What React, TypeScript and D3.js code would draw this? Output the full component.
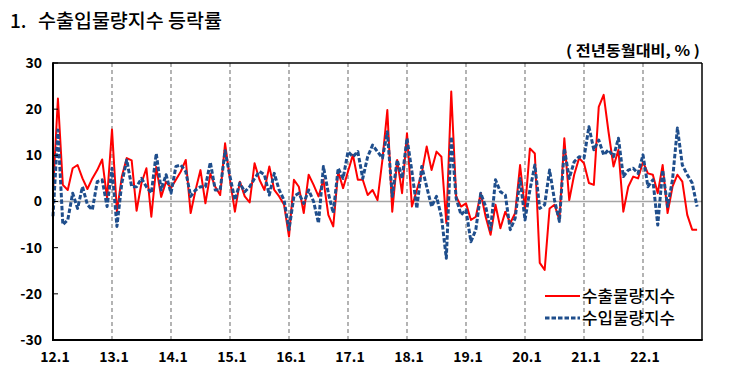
import React from "react";
import * as d3 from "d3";

const exportsPct: number[] = [
  2, 22.3, 3.6, 2.5, 7.2, 7.9, 5, 2.7, 5, 6.8, 9.1, 0.7,
  15.6, -2.2, 5.4, 9.4, 8.9, -2, 4, 7.2, -3.3, 7.5, 1, 4.3,
  2.9, 4.7, 6.5, 9, -2.5, 2.5, 6.8, -0.4, 6, 3.2, 1.4, 12.6,
  4.7, -2.2, 4.3, 1.1, -0.2, 8.3, 4.7, 2.5, 7.6, 2.5, 1.1, -0.7,
  -7.6, 4.7, 3.2, -2.5, 5.8, 3.6, 1.1, 4.7, -2.9, -5.4, 6.5, 2.9,
  6.5, 10.1, 4.7, 4.7, 1.4, 2.5, 0.3, 9, 19.8, -2.2, 9, 1.8,
  14.8, -1.1, 2.5, 6.1, 11.9, 6.8, 10.8, 9.7, -4.7, 23.8, 1.1, -1.1,
  -0.4, -4, -3.3, 1.8, -3.3, -7.2, -0.7, -5.8, -2.2, -4.7, -2.5, 7.9,
  -1.8, 11.5, 10.4, -13.3, -14.8, -1.5, -0.7, -4, 13.7, 0.3, 5.8, 9.4,
  8.3, 4, 3.6, 20.5, 23.1, 15, 7.6, 11.2, -2.2, 3.2, 5.4, 5,
  8.6, 6.1, 5.8, 1.8, 7.9, -2.5, 3.2, 5.8, 4.3, -2.9, -6.1, -6.1,
];

const importsPct: number[] = [
  -3.2, 15.5, -5, -4, 1.8, -1.5, 3.2, -0.7, -1.8, 4.3, 4.7, -1.1,
  7.2, -5.4, 4, 9, 3.2, 3.2, 5, 3.2, 1.8, 10.4, 2.5, 5.8,
  1.8, 7.6, 7.9, 6.5, 1.1, 2.5, 3.2, 3.2, 8.5, 2.5, 2.5, 11,
  5.4, 0.3, 4, 2.1, 3.2, 5, 6.5, 5.8, 1.4, 6.1, 2.5, 0.3,
  -6.1, 1.1, 1.8, -0.4, 2.5, 0, -4.7, 7.6, 1.8, -2.5, 7.2, 5,
  10.8, 9.7, 10.8, 5, 9.7, 12.2, 10.8, 9.4, 15.1, 1.1, 9, 5,
  13.7, 6.5, -1.5, 7.6, 3.2, -1.1, 1.1, -3.3, -12.3, 14, 0.7, -2.9,
  -1.8, -8.7, -6.1, 1.8, -1.1, -6.1, 4.7, 2.1, 1.4, -6.1, -3.6, 5,
  -4, 2.5, 7.9, -1.5, -0.7, 6.8, 0.3, -4.3, 11.5, 5, 8.6, 9.7,
  9.4, 16.2, 11.2, 13.3, 10.1, 11.2, 9.7, 13.7, 5.4, 6.8, 7.2, 6.1,
  10.1, 3.2, 4.7, -5.1, 6.8, -1.1, 4.7, 15.9, 7.9, 5.8, 4, -1.1,
];

const yearLabels: string[] = ["12.1", "13.1", "14.1", "15.1", "16.1", "17.1", "18.1", "19.1", "20.1", "21.1", "22.1"];
const yTicks: number[] = [-30, -20, -10, 0, 10, 20, 30];
const seriesNames: string[] = ["수출물량지수", "수입물량지수"];

const W = 730;
const H = 382;
const L = 53;
const R = 702;
const T = 63;
const B = 340;
const FONT = "'Noto Sans CJK KR', 'Noto Sans', sans-serif";

export default function App() {
  const x = d3.scaleLinear().domain([0, 132]).range([L, R]);
  const y = d3.scaleLinear().domain([-30, 30]).range([B, T]);
  const line = d3
    .line<number>()
    .x((_, i) => x(i))
    .y((d) => y(d));

  return (
    <svg
      width={W}
      height={H}
      style={{ position: "absolute", left: 0, top: 0, background: "#fff" }}
      fontFamily={FONT}
    >
      <rect x={0} y={0} width={W} height={H} fill="#fff" />
      <text x={10} y={28} fontSize={19} fill="#000" fontWeight={500}>
        1.
      </text>
      <text x={38} y={28} fontSize={19} fill="#000" fontWeight={500} textLength={184} lengthAdjust="spacingAndGlyphs">
        수출입물량지수 등락률
      </text>
      <text x={700} y={56} fontSize={14.5} fontWeight={700} textAnchor="end" fill="#000" textLength={134} lengthAdjust="spacingAndGlyphs">
        ( 전년동월대비, % )
      </text>

      {/* vertical dashed gridlines */}
      {yearLabels.slice(1).map((lab, k) => (
        <line
          key={lab}
          x1={x((k + 1) * 12)}
          x2={x((k + 1) * 12)}
          y1={T}
          y2={B}
          stroke="#8c8c8c"
          strokeWidth={1.3}
          strokeDasharray="4 3"
        />
      ))}
      {/* zero line */}
      <line x1={L} x2={R} y1={y(0)} y2={y(0)} stroke="#a6a6a6" strokeWidth={1.5} />

      {/* series */}
      <path d={line(exportsPct) ?? ""} fill="none" stroke="#ff0000" strokeWidth={2} strokeLinejoin="round" />
      <path
        d={line(importsPct) ?? ""}
        fill="none"
        stroke="#1f4e8c"
        strokeWidth={3}
        strokeDasharray="4.5 2"
        strokeLinejoin="round"
      />

      {/* frame */}
      <line x1={L} x2={R} y1={T} y2={T} stroke="#000" strokeWidth={1.5} />
      <line x1={R} x2={R} y1={T} y2={B} stroke="#000" strokeWidth={1.5} />
      <line x1={L} x2={L} y1={T - 0.75} y2={B + 1} stroke="#000" strokeWidth={2} />
      <line x1={L - 1} x2={R + 0.75} y1={B} y2={B} stroke="#000" strokeWidth={2} />

      {/* y ticks */}
      {yTicks.map((t) => (
        <g key={t}>
          <line x1={L} x2={L + 5} y1={y(t)} y2={y(t)} stroke="#000" strokeWidth={1} />
          <text x={42} y={y(t)} dy="0.35em" fontSize={14} fontWeight={700} textAnchor="end" fill="#000">
            {t}
          </text>
        </g>
      ))}

      {/* x labels */}
      {yearLabels.map((lab, k) => (
        <text key={lab} x={x(k * 12) + 2} y={362} fontSize={14} fontWeight={700} textAnchor="middle" fill="#000">
          {lab}
        </text>
      ))}

      {/* legend */}
      <line x1={545} x2={580} y1={296} y2={296} stroke="#ff0000" strokeWidth={2} />
      <text x={582} y={302} fontSize={16} fontWeight={500} fill="#000" textLength={93} lengthAdjust="spacingAndGlyphs">
        {seriesNames[0]}
      </text>
      <line x1={545} x2={580} y1={318} y2={318} stroke="#1f4e8c" strokeWidth={3} strokeDasharray="4.5 2" />
      <text x={582} y={324} fontSize={16} fontWeight={500} fill="#000" textLength={93} lengthAdjust="spacingAndGlyphs">
        {seriesNames[1]}
      </text>
    </svg>
  );
}
